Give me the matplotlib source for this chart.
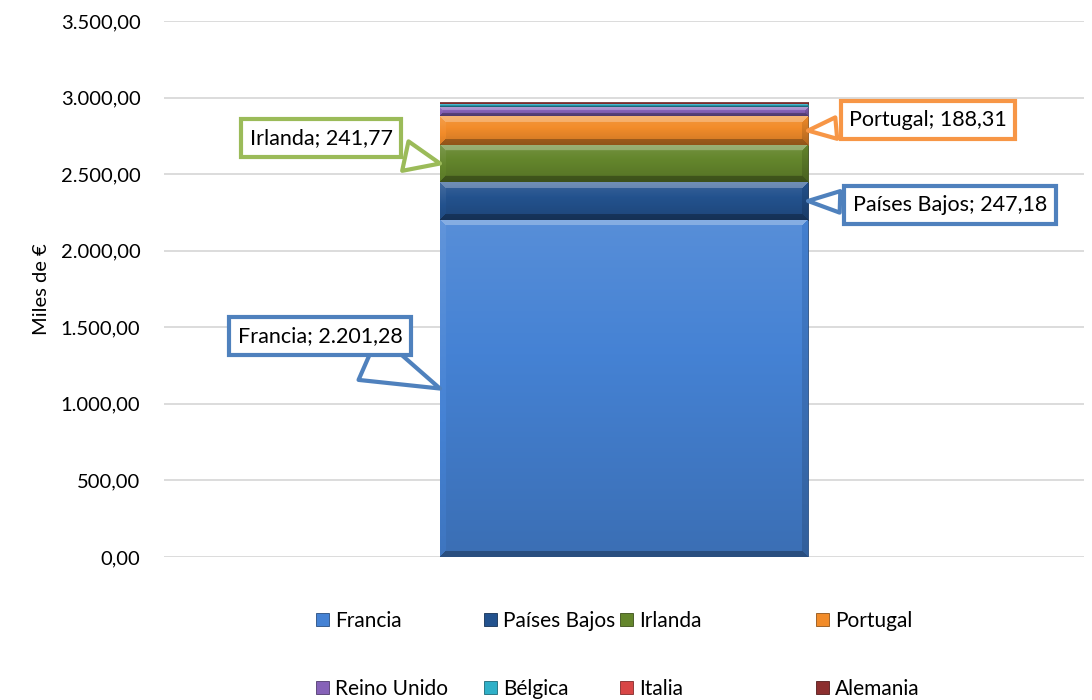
import numpy as np
import matplotlib
matplotlib.use("Agg")
import matplotlib.pyplot as plt
from matplotlib.colors import to_rgb
from matplotlib.ticker import FuncFormatter

plt.rcParams['font.family'] = ['Lato', 'DejaVu Sans']

paises = ["Francia", "Países Bajos", "Irlanda", "Portugal",
          "Reino Unido", "Bélgica", "Italia", "Alemania"]
valores = [2201.28, 247.18, 241.77, 188.31, 58.4, 19.6, 7.5, 6.0]
colores = ["#4582d4", "#23528e", "#64862c", "#f28c2a",
           "#8662b8", "#2fb0c8", "#d84646", "#8c2f2f"]
# etiquetas con globo: (indice, color del borde, centro del texto en px, ancho de la punta)
etiquetas = [(0, "#4f81bd", (320, 336), 2.3),
             (1, "#4f81bd", (950, 205), 1.0),
             (2, "#9bbb59", (321, 138), 1.4),
             (3, "#f79646", (928, 120), 1.0)]


def fmt_es(v, pos=None):
    s = f"{v:,.2f}"
    return s.replace(",", "X").replace(".", ",").replace("X", ".")


W, H = 1092, 700
fig = plt.figure(figsize=(W / 100, H / 100), dpi=100)
ax = fig.add_axes([164 / W, 1 - 557 / H, 920 / W, 536 / H])

bottoms = np.concatenate([[0], np.cumsum(valores)[:-1]])
bars = []
for nombre, v, b, c in zip(paises, valores, bottoms, colores):
    r = ax.bar(0, v, width=0.4, bottom=b, color=c, label=nombre,
               edgecolor=np.array(to_rgb(c)) * 0.6, linewidth=0.6, zorder=2)
    bars.append(r[0])

ax.set_xlim(-0.5, 0.5)
ax.set_ylim(0, 3500)
ppx = 920 / 1.0       # pixeles por unidad x
ppy = 536 / 3500      # pixeles por unidad y


def bisel(color, nx, ny, b=6):
    base = np.array(to_rgb(color))
    yy, xx = np.mgrid[0:ny, 0:nx]
    dt = yy + 0.5
    db = ny - yy - 0.5
    dl = xx + 0.5
    dr = nx - xx - 0.5
    f = np.zeros((ny, nx))
    # degradado vertical suave
    f += 0.10 - 0.25 * (yy / max(ny - 1, 1))
    bb = min(b, ny / 3)
    m = np.minimum(np.minimum(dt, db), np.minimum(dl, dr))
    edge = m < bb
    top = edge & (dt == m)
    bot = edge & (db == m) & ~top
    lef = edge & (dl == m) & ~top & ~bot
    rig = edge & ~top & ~bot & ~lef
    f[top] += 0.25
    f[bot] -= 0.25
    f[lef] += 0.05
    f[rig] -= 0.12
    img = np.empty((ny, nx, 3))
    for k in range(3):
        ch = base[k]
        img[..., k] = np.where(f >= 0, ch + (1 - ch) * f, ch * (1 + f))
    return np.clip(img, 0, 1)


for r, c in zip(bars, colores):
    x0, y0 = r.get_x(), r.get_y()
    w, h = r.get_width(), r.get_height()
    nx = max(int(round(w * ppx)), 2)
    ny = max(int(round(h * ppy)), 2)
    ax.imshow(bisel(c, nx, ny), extent=(x0, x0 + w, y0, y0 + h),
              aspect='auto', interpolation='bilinear', zorder=3)

ax.set_xlim(-0.5, 0.5)
ax.set_ylim(0, 3500)
ax.set_yticks(np.arange(0, 3501, 500))
ax.yaxis.set_major_formatter(FuncFormatter(fmt_es))
ax.set_xticks([])
ax.tick_params(axis='y', length=0, pad=17, labelsize=14.5, colors="#000000")
ax.grid(axis='y', color="#d9d9d9", linewidth=1.3, zorder=0)
ax.set_axisbelow(True)
for s in ax.spines.values():
    s.set_visible(False)
ax.set_ylabel("Miles de €", fontsize=14.5, labelpad=8)

# globos con el valor de cada pais
for i, ec, (tx, ty), tw in etiquetas:
    r = bars[i]
    mid = r.get_y() + r.get_height() / 2
    if tx < 624:
        px = r.get_x()
        py = mid if i != 0 else 1100
    else:
        px = r.get_x() + r.get_width()
        py = mid
    txt = f"{paises[i]}; {fmt_es(valores[i])}"
    ax.annotate(txt, xy=(px, py), xycoords='data',
                xytext=(tx / W, 1 - ty / H), textcoords='figure fraction',
                ha='center', va='center', fontsize=15.5, zorder=6,
                bbox=dict(boxstyle="square,pad=0.4", fc="white", ec=ec, lw=3),
                arrowprops=dict(arrowstyle=f"wedge,tail_width={tw}", fc="white",
                                ec=ec, lw=3, shrinkB=0))

# leyenda en cuatro columnas, dos filas
col_x = [316, 484, 620, 816]
for j in range(4):
    hs = [bars[j], bars[j + 4]]
    ls = [paises[j], paises[j + 4]]
    fig.legend(hs, ls, loc='upper left', bbox_to_anchor=(col_x[j] / W, 1 - 611 / H),
               frameon=False, fontsize=15, handlelength=0.6, handleheight=0.6,
               handletextpad=0.3, labelspacing=2.3, borderpad=0, borderaxespad=0)

fig.savefig("out.png", dpi=100)
